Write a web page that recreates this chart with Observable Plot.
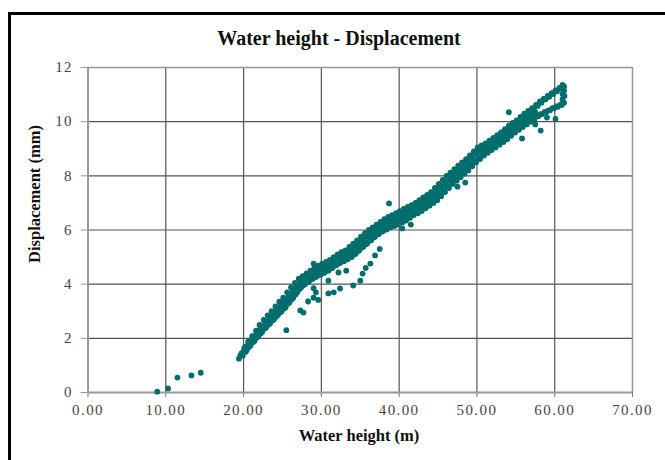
<!DOCTYPE html>
<html>
<head>
<meta charset="utf-8">
<script src="https://cdn.jsdelivr.net/npm/d3@7"></script>
<script src="https://cdn.jsdelivr.net/npm/@observablehq/plot@0.6"></script>
<style>
  html, body { margin: 0; padding: 0; background: #fff; }
  #wrap { position: relative; width: 665px; height: 460px; overflow: hidden; background: #fff; }
  #box { position: absolute; left: 8px; top: 12px; width: 700px; height: 500px;
         border-left: 3px solid #000; border-top: 3px solid #000; }
  #chart { position: absolute; left: 0; top: 0; }
  #chart svg text { font-family: "Liberation Serif", serif !important; letter-spacing: 1.4px; }
  .t { position: absolute; font-family: "Liberation Serif", serif; font-weight: bold; color: #111; white-space: nowrap; }
  #title { left: 339px; top: 38px; font-size: 20px; transform: translate(-50%, -50%); }
  #xlabel { left: 359px; top: 436px; font-size: 16.5px; transform: translate(-50%, -50%); }
  #ylabel { left: 35px; top: 194px; font-size: 16.5px; transform: translate(-50%, -50%) rotate(-90deg); }
</style>
</head>
<body>
<div id="wrap">
  <div id="box"></div>
  <div id="chart"></div>
  <div class="t" id="title">Water height - Displacement</div>
  <div class="t" id="xlabel">Water height (m)</div>
  <div class="t" id="ylabel">Displacement (mm)</div>
</div>
<script>
const xTicks = [0, 10, 20, 30, 40, 50, 60, 70];
const yTicks = [0, 2, 4, 6, 8, 10, 12];

// [water height (m), displacement (mm)]
const lowPoints = [[8.9,0.03],[10.3,0.15],[11.5,0.55],[13.3,0.63],[14.5,0.73]];

const bandPoints = [
[19.4,1.25],[19.6,1.38],
[19.9,1.36],[20.0,1.52],[20.1,1.66],
[20.4,1.56],[20.5,1.72],[20.6,1.88],
[20.9,1.74],[21.0,1.9],[21.1,2.08],
[21.4,1.9],[21.5,2.1],[21.6,2.28],
[21.9,2.08],[22.0,2.28],[22.1,2.47],
[22.4,2.24],[22.5,2.45],[22.6,2.68],
[22.9,2.4],[23.0,2.62],[23.1,2.85],
[23.4,2.55],[23.5,2.78],[23.6,3.0],
[23.9,2.7],[24.0,2.95],[24.1,3.18],
[24.4,2.86],[24.5,3.1],[24.6,3.35],
[24.9,3.0],[25.0,3.25],[25.1,3.5],
[25.4,3.15],[25.5,3.42],[25.6,3.7],
[25.9,3.32],[26.0,3.6],[26.1,3.88],
[26.4,3.5],[26.5,3.8],[26.6,4.05],
[26.9,3.7],[27.0,3.95],[27.1,4.2],
[27.4,3.88],[27.5,4.1],[27.6,4.3],
[27.9,4.0],[28.0,4.2],[28.1,4.4],
[28.4,4.1],[28.5,4.3],[28.6,4.5],
[28.9,4.2],[29.0,4.4],[29.1,4.6],
[29.4,4.28],[29.5,4.48],[29.6,4.68],
[29.9,4.35],[30.0,4.55],[30.1,4.75],
[30.4,4.42],[30.5,4.62],[30.6,4.82],
[30.9,4.5],[31.0,4.7],[31.1,4.9],
[31.4,4.6],[31.5,4.8],[31.6,5.0],
[31.9,4.7],[32.0,4.9],[32.1,5.1],
[32.4,4.78],[32.5,4.98],[32.6,5.18],
[32.9,4.85],[33.0,5.05],[33.1,5.25],
[33.4,4.92],[33.5,5.15],[33.6,5.38],
[33.9,5.0],[34.0,5.25],[34.1,5.5],
[34.4,5.12],[34.5,5.38],[34.6,5.62],
[34.9,5.25],[35.0,5.5],[35.1,5.75],
[35.4,5.38],[35.5,5.62],[35.6,5.88],
[35.9,5.5],[36.0,5.75],[36.1,6.0],
[36.4,5.62],[36.5,5.87],[36.6,6.1],
[36.9,5.75],[37.0,5.98],[37.1,6.2],
[37.4,5.85],[37.5,6.08],[37.6,6.3],
[37.9,5.95],[38.0,6.18],[38.1,6.4],
[38.4,6.02],[38.5,6.25],[38.6,6.48],
[38.9,6.1],[39.0,6.32],[39.1,6.55],
[39.4,6.15],[39.5,6.38],[39.6,6.62],
[39.9,6.2],[40.0,6.45],[40.1,6.7],
[40.4,6.28],[40.5,6.52],[40.6,6.78],
[40.9,6.35],[41.0,6.6],[41.1,6.85],
[41.4,6.45],[41.5,6.68],[41.6,6.92],
[41.9,6.55],[42.0,6.78],[42.1,7.0],
[42.4,6.62],[42.5,6.85],[42.6,7.1],
[42.9,6.7],[43.0,6.95],[43.1,7.2],
[43.4,6.8],[43.5,7.05],[43.6,7.3],
[43.9,6.9],[44.0,7.15],[44.1,7.4],
[44.4,7.0],[44.5,7.28],[44.6,7.55],
[44.9,7.1],[45.0,7.4],[45.1,7.7],
[45.4,7.25],[45.5,7.55],[45.6,7.85],
[45.9,7.4],[46.0,7.7],[46.1,8.0],
[46.4,7.55],[46.5,7.85],[46.6,8.12],
[46.9,7.7],[47.0,7.98],[47.1,8.25],
[47.4,7.82],[47.5,8.1],[47.6,8.38],
[47.9,7.95],[48.0,8.22],[48.1,8.5],
[48.4,8.08],[48.5,8.35],[48.6,8.62],
[48.9,8.2],[49.0,8.48],[49.1,8.75],
[49.4,8.35],[49.5,8.62],[49.6,8.9],
[49.9,8.5],[50.0,8.78],[50.1,9.05],
[50.4,8.62],[50.5,8.9],[50.6,9.12],
[50.9,8.75],[51.0,8.98],[51.1,9.2],
[51.4,8.85],[51.5,9.08],[51.6,9.3],
[51.9,8.95],[52.0,9.18],[52.1,9.4],
[52.4,9.05],[52.5,9.28],[52.6,9.5],
[52.9,9.15],[53.0,9.38],[53.1,9.6],
[53.4,9.25],[53.5,9.5],[53.6,9.72],
[53.9,9.35],[54.0,9.6],[54.1,9.85],
[54.4,9.48],[54.5,9.72],[54.6,9.95],
[54.9,9.6],[55.0,9.82],[55.1,10.05],
[55.4,9.7],[55.5,9.95],[55.6,10.18],
[55.9,9.8],[56.0,10.05],[56.1,10.3],
[56.4,9.9],[56.5,10.15],[56.6,10.4],
[56.9,10.0],[57.0,10.25],[57.1,10.5],
[57.4,10.1],[57.5,10.35],[57.6,10.62],
[57.9,10.2],[58.1,10.75],
[58.4,10.28],[58.6,10.85],
[58.9,10.35],[59.1,10.95],
[59.4,10.42],[59.6,11.05],
[59.9,10.5],[60.1,11.15],
[60.4,10.55],[60.6,11.25],
[60.9,10.62],[61.0,10.82],[61.0,11.02],[61.0,11.2],[61.0,11.36],
[61.2,10.7],[61.25,10.95],[61.2,11.15],[61.2,11.3]
];

const bandPointsFill = [
[19.75,1.45],
[20.25,1.5],[20.3,1.7],[20.7,1.68],[20.8,1.86],[21.2,1.86],[21.3,2.04],[21.7,2.02],[21.8,2.22],
[22.2,2.18],[22.3,2.4],[22.7,2.36],[22.8,2.58],[23.2,2.5],[23.3,2.74],[23.7,2.66],[23.8,2.9],
[24.2,2.8],[24.3,3.06],[24.7,2.95],[24.8,3.22],[25.2,3.1],[25.3,3.38],[25.7,3.28],[25.8,3.58],
[26.2,3.44],[26.3,3.74],[26.7,3.62],[26.8,3.92],[27.2,3.82],[27.3,4.08],[27.7,3.96],[27.8,4.2],
[28.2,4.08],[28.3,4.3],[28.7,4.18],[28.8,4.4],[29.2,4.26],[29.3,4.5],[29.7,4.34],[29.8,4.58],
[30.2,4.42],[30.3,4.66],[30.7,4.5],[30.8,4.74],[31.2,4.58],[31.3,4.82],[31.7,4.68],[31.8,4.92],
[32.2,4.76],[32.3,5.0],[32.7,4.84],[32.8,5.08],[33.2,4.92],[33.3,5.18],[33.7,5.0],[33.8,5.28],
[34.2,5.1],[34.3,5.4],[34.7,5.22],[34.8,5.52],[35.2,5.35],[35.3,5.64],[35.7,5.48],[35.8,5.78],
[36.2,5.6],[36.3,5.9],[36.7,5.72],[36.8,6.0],[37.2,5.84],[37.3,6.1],[37.7,5.94],[37.8,6.2],
[38.2,6.02],[38.3,6.3],[38.7,6.1],[38.8,6.38],[39.2,6.16],[39.3,6.44],[39.7,6.22],[39.8,6.52],
[40.2,6.3],[40.3,6.6],[40.7,6.38],[40.8,6.68],[41.2,6.46],[41.3,6.76],[41.7,6.56],[41.8,6.84],
[42.2,6.64],[42.3,6.94],[42.7,6.72],[42.8,7.02],[43.2,6.82],[43.3,7.12],[43.7,6.92],[43.8,7.24],
[44.2,7.02],[44.3,7.36],[44.7,7.14],[44.8,7.5],[45.2,7.28],[45.3,7.64],[45.7,7.44],[45.8,7.8],
[46.2,7.6],[46.3,7.94],[46.7,7.74],[46.8,8.06],[47.2,7.86],[47.3,8.18],[47.7,7.98],[47.8,8.3],
[48.2,8.1],[48.3,8.44],[48.7,8.24],[48.8,8.56],[49.2,8.38],[49.3,8.7],[49.7,8.52],[49.8,8.84],
[50.2,8.66],[50.3,8.96],[50.7,8.78],[50.8,9.04],[51.2,8.88],[51.3,9.14],[51.7,8.98],[51.8,9.24],
[52.2,9.08],[52.3,9.34],[52.7,9.18],[52.8,9.44],[53.2,9.28],[53.3,9.56],[53.7,9.4],[53.8,9.68],
[54.2,9.5],[54.3,9.8],[54.7,9.62],[54.8,9.9],[55.2,9.72],[55.3,10.0],[55.7,9.84],[55.8,10.12],
[56.2,9.94],[56.3,10.22],[56.7,10.04],[56.8,10.34],[57.2,10.14],[57.3,10.46],[57.7,10.2],[57.8,10.58],
[58.2,10.28],[58.3,10.7],[58.7,10.36],[58.8,10.82],[59.2,10.42],[59.3,10.92],[59.7,10.5],[59.8,11.02],
[60.2,10.56],[60.3,11.12],[60.7,10.62],[60.8,11.24]
];

const outlierPoints = [
[22.05,2.5],[25.5,2.3],[27.3,3.03],[27.7,2.95],[28.3,3.36],[29.0,3.5],[29.3,3.7],
[29.6,3.42],[29.0,3.85],[30.9,3.66],[31.6,3.7],[32.4,3.84],[34.1,3.95],[35.0,4.13],
[35.3,4.39],[35.7,4.6],[36.3,4.76],[36.9,5.06],[30.9,4.13],[32.2,4.43],[29.0,4.76],
[33.2,4.5],[37.5,5.3],[38.7,6.98],[40.4,6.06],[41.5,6.2],[47.5,7.6],[48.5,7.75],
[54.1,10.35],[55.8,9.38],[58.2,9.67],[60.1,10.1],[57.5,9.9],[59.0,10.15]
];

const points = [...lowPoints, ...bandPoints, ...bandPointsFill, ...outlierPoints];

const chart = Plot.plot({
  width: 665,
  height: 460,
  marginLeft: 87.5,
  marginRight: 33,
  marginTop: 67,
  marginBottom: 68,
  style: { fontFamily: "'Liberation Serif', serif", fontSize: "15px", color: "#444", background: "transparent" },
  x: { domain: [0, 70], ticks: xTicks, label: null },
  y: { domain: [0, 12], ticks: yTicks, label: null },
  marks: [
    Plot.gridX(xTicks.slice(1, -1), { stroke: "#555", strokeOpacity: 1, strokeWidth: 1.2 }),
    Plot.gridY(yTicks.slice(1, -1), { stroke: "#555", strokeOpacity: 1, strokeWidth: 1.2 }),
    Plot.ruleX([70], { stroke: "#999", strokeWidth: 1.6 }),
    Plot.ruleY([12], { stroke: "#999", strokeWidth: 1.6 }),
    Plot.axisX({ ticks: xTicks, tickFormat: d => d.toFixed(2), tickSize: 5, tickPadding: 7, stroke: "#777", label: null }),
    Plot.axisY({ ticks: yTicks, tickSize: 7, tickPadding: 8, stroke: "#999", label: null }),
    Plot.ruleX([0], { stroke: "#999", strokeWidth: 2 }),
    Plot.ruleY([0], { stroke: "#999", strokeWidth: 2 }),
    Plot.dot(points, { x: d => d[0], y: d => d[1], r: 2.9, fill: "#006e6c", stroke: "none" })
  ]
});
document.getElementById("chart").appendChild(chart);
</script>
</body>
</html>
